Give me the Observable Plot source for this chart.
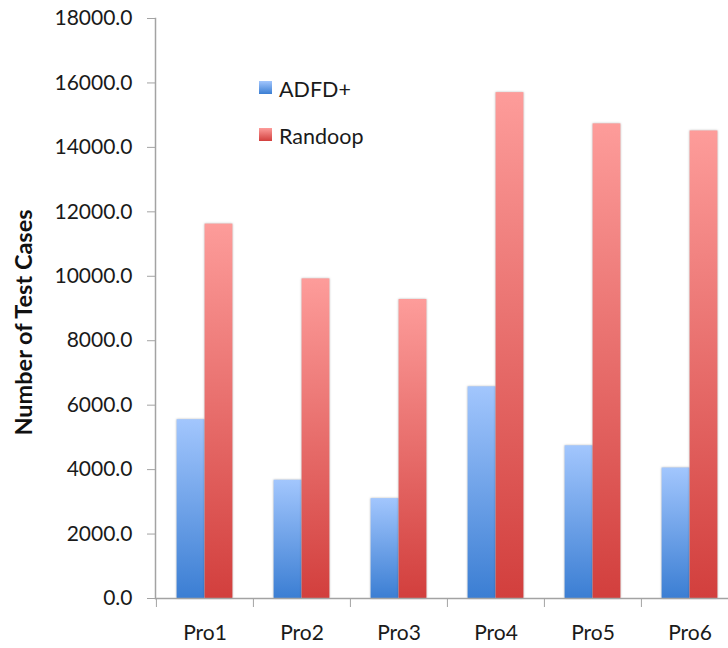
<!DOCTYPE html>
<html>
<head>
<meta charset="utf-8">
<script src="https://cdn.jsdelivr.net/npm/d3@7"></script>
<script src="https://cdn.jsdelivr.net/npm/@observablehq/plot@0.6"></script>
<style>
  html, body { margin: 0; padding: 0; background: #fff; }
  #wrap { position: relative; width: 728px; height: 648px; overflow: hidden; font-family: Lato, "Open Sans", sans-serif; }
  .bar rect { filter: drop-shadow(0 0 1.2px rgba(0,0,0,0.28)); }
  #legend { position: absolute; left: 259px; top: 76px; color: #1a1a1a; font-size: 21.5px; }
  #legend .item { display: flex; align-items: center; height: 26px; margin-bottom: 21px; }
  #legend .sw { width: 13px; height: 13px; margin-right: 7px; margin-top: -3px; }
</style>
</head>
<body>
<div id="wrap"></div>
<script>
const categories = ["Pro1", "Pro2", "Pro3", "Pro4", "Pro5", "Pro6"];
const series = ["ADFD+", "Randoop"];
const adfdValues = [5550, 3670, 3100, 6570, 4740, 4050];
const randoopValues = [11620, 9920, 9280, 15700, 14730, 14510];
const yTicks = [0, 2000, 4000, 6000, 8000, 10000, 12000, 14000, 16000, 18000];
const yLabel = "Number of Test Cases";

const gradients = [
  {id: "gradBlue", top: "#a2c6fd", bottom: "#3b7ed3"},
  {id: "gradRed", top: "#fd9c9a", bottom: "#d23f3d"}
];

const data = [];
categories.forEach((c, i) => {
  data.push({category: c, series: series[0], value: adfdValues[i]});
  data.push({category: c, series: series[1], value: randoopValues[i]});
});

const xRange = [155, 738];
const step = (xRange[1] - xRange[0]) / categories.length;
const grey = "#a3a3a3";

function defs() {
  const ns = "http://www.w3.org/2000/svg";
  const d = document.createElementNS(ns, "defs");
  gradients.forEach(g => {
    const lg = document.createElementNS(ns, "linearGradient");
    lg.setAttribute("id", g.id);
    lg.setAttribute("x1", "0"); lg.setAttribute("y1", "0");
    lg.setAttribute("x2", "0"); lg.setAttribute("y2", "1");
    [[0, g.top], [1, g.bottom]].forEach(([o, c]) => {
      const s = document.createElementNS(ns, "stop");
      s.setAttribute("offset", o);
      s.setAttribute("stop-color", c);
      lg.appendChild(s);
    });
    d.appendChild(lg);
  });
  return d;
}

const chart = Plot.plot({
  width: 728,
  height: 648,
  marginLeft: 155,
  marginRight: 0,
  marginTop: 18,
  marginBottom: 50,
  style: {fontFamily: "Lato, 'Open Sans', sans-serif", background: "#fff"},
  x: {domain: categories, range: xRange, padding: 0},
  y: {domain: [0, 18000]},
  marks: [
    defs,
    Plot.barY(data.filter(d => d.series === series[0]), {
      x: "category", y: "value", fill: "url(#gradBlue)",
      insetLeft: 20.6, insetRight: step / 2, className: "bar"
    }),
    Plot.barY(data.filter(d => d.series === series[1]), {
      x: "category", y: "value", fill: "url(#gradRed)",
      insetLeft: step / 2, insetRight: 20.6, className: "bar"
    }),
    Plot.frame({anchor: "left", stroke: grey, strokeWidth: 1.5}),
    Plot.ruleY([0], {stroke: grey, strokeWidth: 1.5}),
    Plot.axisY({
      ticks: yTicks, tickFormat: d3.format(".1f"), tickSize: 8, tickPadding: 15,
      fontSize: 21, stroke: grey, fill: "#1a1a1a", label: null
    }),
    Plot.axisX({
      tickSize: 9, tickFormat: () => "", dx: -step / 2, stroke: grey, label: null
    }),
    Plot.axisX({
      tickSize: 0, tickPadding: 27, fontSize: 21, fill: "#1a1a1a", label: null
    }),
    Plot.text([yLabel], {
      text: d => d, frameAnchor: "left", rotate: -90, dx: -131, dy: 14,
      fontSize: 23.5, fontWeight: "bold", fill: "#111", textAnchor: "middle"
    })
  ]
});

const wrap = document.getElementById("wrap");
wrap.appendChild(chart);

const legend = document.createElement("div");
legend.id = "legend";
series.forEach((s, i) => {
  const item = document.createElement("div");
  item.className = "item";
  const sw = document.createElement("span");
  sw.className = "sw";
  sw.style.background = `linear-gradient(${gradients[i].top}, ${gradients[i].bottom})`;
  const t = document.createElement("span");
  t.textContent = s;
  item.appendChild(sw);
  item.appendChild(t);
  legend.appendChild(item);
});
wrap.appendChild(legend);
</script>
</body>
</html>
